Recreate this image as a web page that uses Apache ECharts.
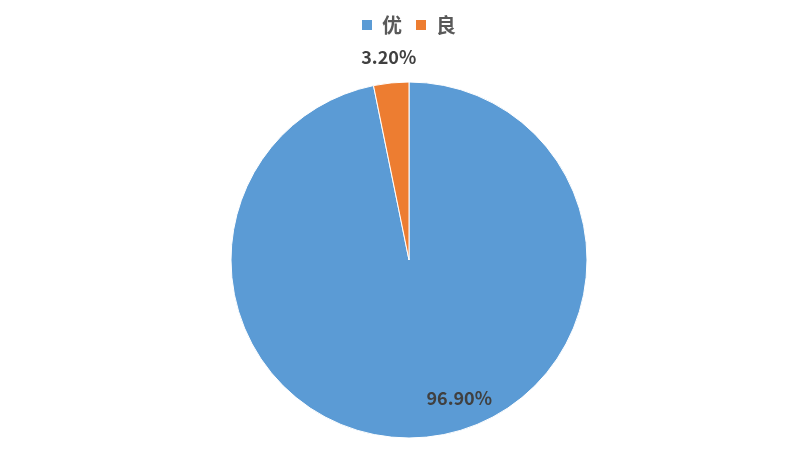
<!DOCTYPE html>
<html>
<head>
<meta charset="utf-8">
<script src="https://cdn.jsdelivr.net/npm/echarts@6/dist/echarts.min.js"></script>
<style>
html,body{margin:0;padding:0;background:#fff;}
#main{width:800px;height:453px;}
</style>
</head>
<body>
<div id="main"></div>
<script>
var categories = ['优', '良'];
var values = [96.90, 3.20];
var colors = ['#5B9BD5', '#ED7D31'];
var labelShift = [[41, 47], [-11, -111]];

var chart = echarts.init(document.getElementById('main'), null, {renderer: 'canvas'});
var data = categories.map(function (c, i) {
  return { name: c, value: values[i], itemStyle: { color: colors[i] } };
});
chart.setOption({
  animation: false,
  backgroundColor: '#ffffff',
  legend: {
    data: categories,
    top: 10,
    left: 355,
    itemWidth: 12,
    itemHeight: 12,
    itemGap: 12,
    icon: 'rect',
    textStyle: { fontSize: 20, color: '#595959', fontWeight: 'bold', padding: [0, 0, 0, 4], fontFamily: 'Microsoft YaHei, "Noto Sans CJK SC", sans-serif' }
  },
  series: [{
    type: 'pie',
    center: [409, 260],
    radius: 178,
    startAngle: 90,
    clockwise: true,
    avoidLabelOverlap: false,
    itemStyle: { borderColor: '#ffffff', borderWidth: 1 },
    label: {
      show: true,
      position: 'inside',
      formatter: function (p) { return p.value.toFixed(2) + '%'; },
      fontSize: 18,
      fontWeight: 'bold',
      color: '#404040',
      fontFamily: 'Microsoft YaHei, "Noto Sans CJK SC", sans-serif'
    },
    labelLine: { show: false },
    labelLayout: function (params) {
      var s = labelShift[params.dataIndex];
      return { dx: s[0], dy: s[1] };
    },
    emphasis: { disabled: true },
    data: data
  }]
});
</script>
</body>
</html>
